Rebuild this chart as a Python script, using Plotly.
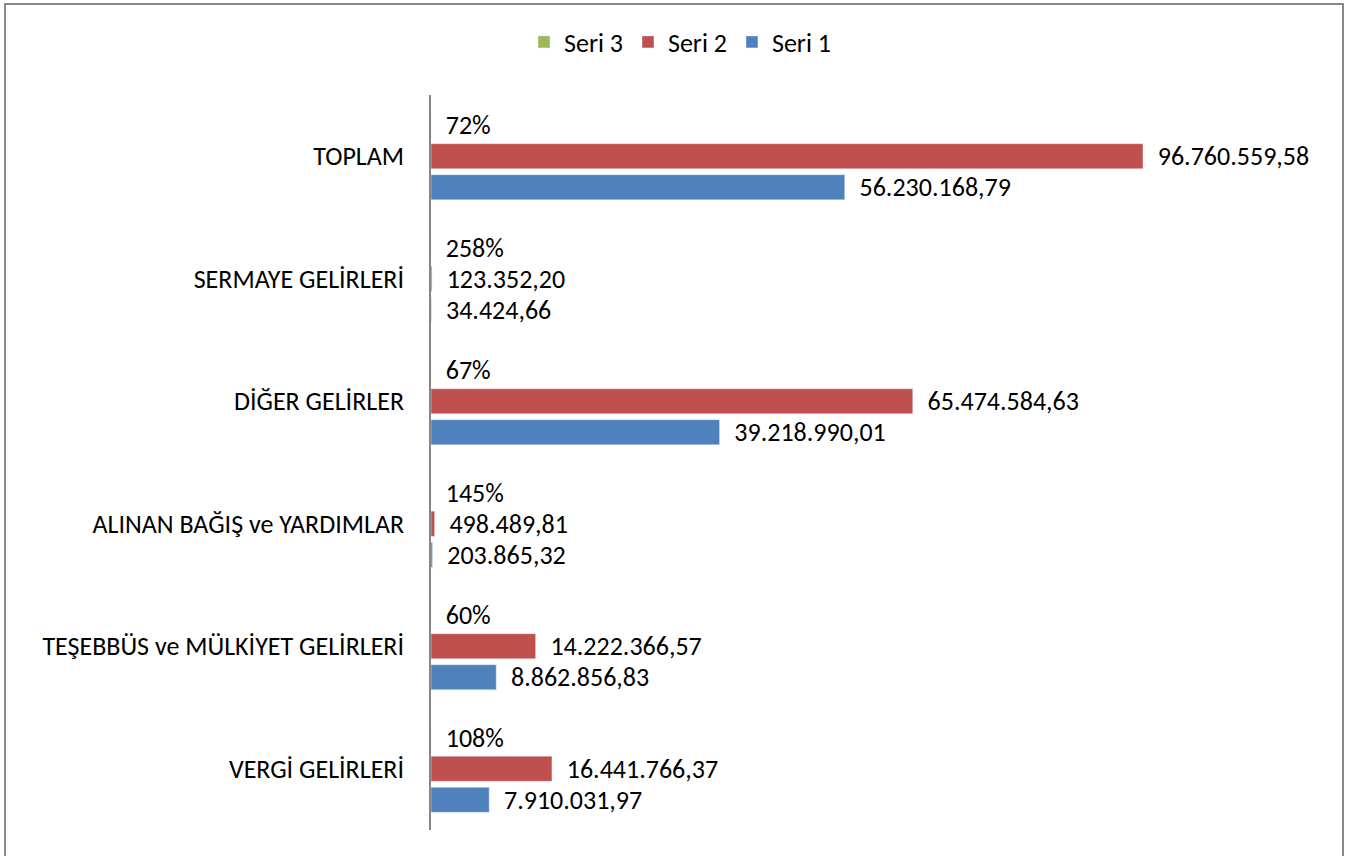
import plotly.graph_objects as go

categories = ["VERGİ GELİRLERİ", "TEŞEBBÜS ve MÜLKİYET GELİRLERİ", "ALINAN BAĞIŞ ve YARDIMLAR",
              "DİĞER GELİRLER", "SERMAYE GELİRLERİ", "TOPLAM"]
seri1 = [7910031.97, 8862856.83, 203865.32, 39218990.01, 34424.66, 56230168.79]
seri2 = [16441766.37, 14222366.57, 498489.81, 65474584.63, 123352.20, 96760559.58]
seri3 = [1.08, 0.60, 1.45, 0.67, 2.58, 0.72]

def tr_num(v):
    s = f"{v:,.2f}"
    return s.replace(",", "X").replace(".", ",").replace("X", ".")

def tr_pct(p):
    return f"{round(p * 100)}%"

FONT = "Calibri, Carlito, Roboto, sans-serif"
FS = 26
PAD = "\u00a0\u00a0"

fig = go.Figure()
fig.add_trace(go.Bar(name="Seri 1", y=categories, x=seri1, orientation="h",
                     marker=dict(color="#4F81BD"),
                     text=[PAD + tr_num(v) for v in seri1], textposition="outside",
                     cliponaxis=False, constraintext="none",
                     textfont=dict(family=FONT, size=FS, color="black")))
fig.add_trace(go.Bar(name="Seri 2", y=categories, x=seri2, orientation="h",
                     marker=dict(color="#C0504D"),
                     text=[PAD + tr_num(v) for v in seri2], textposition="outside",
                     cliponaxis=False, constraintext="none",
                     textfont=dict(family=FONT, size=FS, color="black")))
fig.add_trace(go.Bar(name="Seri 3", y=categories, x=seri3, orientation="h",
                     marker=dict(color="#9BBB59"),
                     text=[PAD + tr_pct(v) for v in seri3], textposition="outside",
                     cliponaxis=False, constraintext="none",
                     textfont=dict(family=FONT, size=FS, color="black")))

W, H = 1347, 856
L, R, T, B = 431, 1347 - 1314, 95, 856 - 830
pw, ph = W - L - R, H - T - B

def px(x):
    return (x - L) / pw

def py(y):
    return (H - B - y) / ph

fig.update_layout(
    width=W, height=H,
    margin=dict(l=L, r=R, t=T, b=B, pad=0),
    paper_bgcolor="white", plot_bgcolor="white",
    barmode="group", bargap=0.24, bargroupgap=0.19,
    font=dict(family=FONT, size=FS, color="black"),
    showlegend=True,
    legend=dict(orientation="h", traceorder="reversed", x=px(680), xanchor="center",
                y=py(42), yanchor="middle", font=dict(family=FONT, size=FS, color="black"),
                itemwidth=30, bgcolor="rgba(0,0,0,0)"),
    xaxis=dict(range=[0, 1.2e8], visible=False, showgrid=False, zeroline=False, fixedrange=True),
    yaxis=dict(showline=True, linecolor="#868686", linewidth=1.5, showgrid=False, zeroline=False,
               ticks="", ticklabelstandoff=20, tickfont=dict(family=FONT, size=FS, color="black"),
               categoryorder="array", categoryarray=categories),
    shapes=[
        dict(type="rect", xref="paper", yref="paper",
             x0=px(5), x1=px(1343), y0=py(862), y1=py(4),
             line=dict(color="#898989", width=2), fillcolor="rgba(0,0,0,0)", layer="below"),
    ],
)

fig.write_html("out.html", config={"displayModeBar": False},
               post_script="document.body.style.margin='0';document.body.style.overflow='hidden';")
